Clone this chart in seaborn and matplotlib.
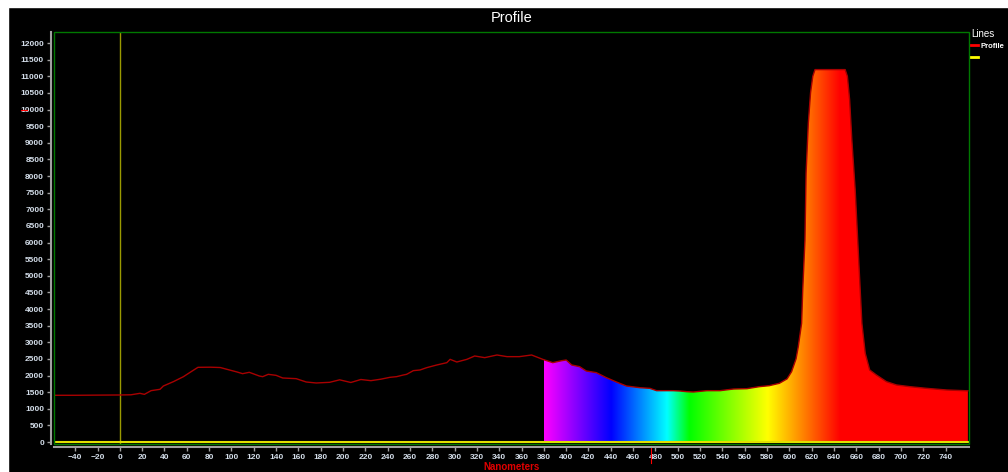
import numpy as np
import matplotlib
matplotlib.use("Agg")
import matplotlib.pyplot as plt
from matplotlib.patches import Rectangle, PathPatch
from matplotlib.lines import Line2D
from matplotlib.transforms import blended_transform_factory
import seaborn as sns

# profile (wavelength in nm, intensity)
nm = [-59, -40, -20, 0, 10, 18, 22, 28, 36, 39, 48, 57, 63, 70, 81, 90, 96,
      105, 110, 116, 125, 128, 133, 140, 146, 158, 167, 176, 188, 197, 207,
      216, 225, 234, 242, 248, 254, 257, 263, 269, 275, 284, 293, 296, 302,
      311, 318, 327, 338, 347, 358, 369, 379, 388, 396, 400, 405, 412, 418,
      427, 436, 445, 454, 466, 475, 481, 496, 502, 508, 514, 526, 538, 550,
      562, 573, 582, 591, 598, 602, 606, 608, 611, 612, 614, 615, 617, 619,
      621, 623, 650, 652, 654, 656, 659, 662, 665, 668, 672, 678, 687, 696,
      708, 723, 741, 760]
counts = [1405, 1405, 1410, 1414, 1420, 1464, 1433, 1544, 1585, 1684, 1815,
          1965, 2096, 2246, 2250, 2240, 2186, 2106, 2055, 2096, 1985, 1965,
          2035, 2005, 1925, 1905, 1805, 1775, 1795, 1870, 1790, 1880, 1845,
          1890, 1945, 1965, 2015, 2035, 2146, 2166, 2236, 2316, 2386, 2486,
          2406, 2486, 2587, 2537, 2617, 2567, 2567, 2617, 2486, 2386, 2446,
          2466, 2316, 2266, 2136, 2086, 1935, 1805, 1684, 1634, 1614, 1544,
          1544, 1534, 1514, 1504, 1544, 1544, 1594, 1604, 1664, 1694, 1765,
          1900, 2115, 2500, 2867, 3570, 4572, 6076, 8082, 9587, 10500,
          11000, 11200, 11200, 11000, 10300, 9085, 7580, 5574, 3570, 2668,
          2166, 2015, 1815, 1715, 1664, 1614, 1564, 1540]
x_ticks = list(range(-40, 741, 20))
y_ticks = list(range(0, 12001, 500))
band_start, band_end = 380, 760


def spectrum_rgb(w):
    if w < 440:
        return (-(w - 440) / 60, 0.0, 1.0)
    if w < 490:
        return (0.0, (w - 440) / 50, 1.0)
    if w < 510:
        return (0.0, 1.0, -(w - 510) / 20)
    if w < 580:
        return ((w - 510) / 70, 1.0, 0.0)
    if w < 645:
        return (1.0, -(w - 645) / 65, 0.0)
    return (1.0, 0.0, 0.0)


plt.rcParams['font.family'] = ['Liberation Sans', 'DejaVu Sans']

fig = plt.figure(figsize=(10.08, 4.72), dpi=100, facecolor='black')
ax = fig.add_axes([54 / 1008, 1 - 444 / 472, 915 / 1008, 412 / 472])
ax.set_facecolor('black')

# spectrum coloured fill under the curve
nm_arr = np.array(nm)
cnt_arr = np.array(counts)
band = nm_arr >= 379
poly = ax.fill_between(nm_arr[band], 0, cnt_arr[band], facecolor='none',
                       edgecolor='none')
clip = PathPatch(poly.get_paths()[0], transform=ax.transData,
                 facecolor='none', edgecolor='none')
ax.add_patch(clip)
wl = np.linspace(band_start, band_end, 800)
img = np.array([spectrum_rgb(w) for w in wl])[np.newaxis, :, :]
im = ax.imshow(img, extent=[band_start, band_end, 0, 12331], aspect='auto',
               origin='lower', interpolation='bilinear', zorder=1)
im.set_clip_path(clip)

sns.lineplot(x=nm, y=counts, color='#a80000', lw=1, ax=ax, zorder=3)

ax.axvline(0, color='#9a9a00', lw=1, zorder=2)
ax.axhline(0, color='#e0e000', lw=1.5, zorder=4)

ax.set_xlim(-59, 761)
ax.set_ylim(-60, 12331)
ax.set_xticks(x_ticks)
ax.set_yticks(y_ticks)

for s in ax.spines.values():
    s.set_visible(False)
for side in ['left', 'bottom']:
    ax.spines[side].set_visible(True)
    ax.spines[side].set_color('#a0a0a0')
    ax.spines[side].set_linewidth(1.5)
    ax.spines[side].set_position(('outward', 2.2))
ax.add_patch(Rectangle((0, 0), 1, 1, transform=ax.transAxes, fill=False,
                       edgecolor='#007800', lw=1, clip_on=False, zorder=5))

ax.tick_params(colors='#a0a0a0', labelcolor='#d4deea', length=3, width=1,
               labelsize=6, pad=2)
for lab in ax.get_xticklabels() + ax.get_yticklabels():
    lab.set_fontweight('bold')
ax.grid(False)

ax.set_title("Profile", color='white', fontsize=10.5, pad=7)
ax.set_xlabel("Nanometers", color='#e00000', fontsize=7, labelpad=1,
              fontweight='bold')
ax.set_ylabel("")

# cursor markers
tr_x = blended_transform_factory(ax.transData, ax.transAxes)
ax.plot([476, 476], [-0.006, -0.046], transform=tr_x, color='red', lw=0.8,
        clip_on=False)
tr_y = blended_transform_factory(ax.transAxes, ax.transData)
ax.plot([-0.036, -0.030], [10000, 10000], transform=tr_y, color='red',
        lw=0.8, clip_on=False)

handles = [Line2D([], [], color='red', lw=2),
           Line2D([], [], color='yellow', lw=2)]
leg = ax.legend(handles, ['Profile', ''], title='Lines', loc='upper left',
                bbox_to_anchor=(971 / 1008, 1 - 29 / 472),
                bbox_transform=fig.transFigure, frameon=False, fontsize=5.5,
                title_fontsize=7, handlelength=0.9, handletextpad=0.4,
                borderpad=0, borderaxespad=0, labelspacing=0.5,
                alignment='left')
leg.get_title().set_color('white')
for t in leg.get_texts():
    t.set_color('white')
    t.set_fontweight('bold')

# white frame edges of the window capture
fig.add_artist(Rectangle((0, 0), 8 / 1008, 1, transform=fig.transFigure,
                         color='white', zorder=10))
fig.add_artist(Rectangle((0, 1 - 7 / 472), 1, 7 / 472,
                         transform=fig.transFigure, color='white', zorder=10))

fig.savefig("out.png", dpi=100, facecolor='black')
